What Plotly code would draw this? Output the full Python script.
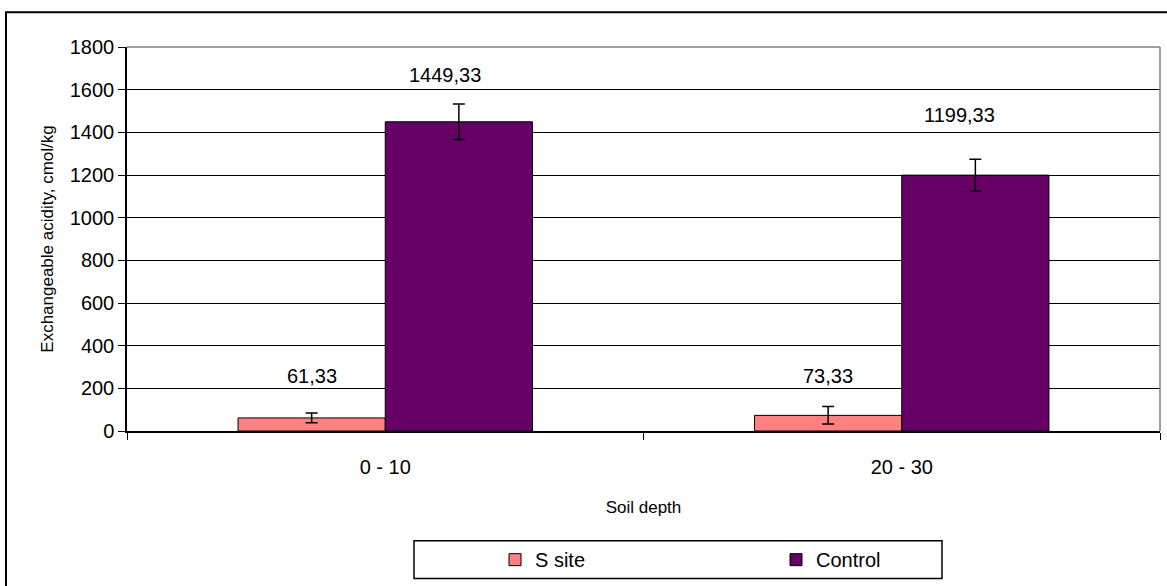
import plotly.graph_objects as go

# Exchangeable acidity by soil depth
depths = ["0 - 10", "20 - 30"]
s_site = [61.33, 73.33]
s_site_err = [23, 41]
control = [1449.33, 1199.33]
control_err = [83, 75]
y_ticks = [0, 200, 400, 600, 800, 1000, 1200, 1400, 1600, 1800]

# pixel offsets (up, sideways) of each value label relative to its bar top
s_site_lift = [42, 39]
control_lift = [47, 60]
s_site_side = [0, 0]
control_side = [-14, -16]

FONT = "Liberation Sans, Arial, sans-serif"
BAR_GAP = 0.43

W, H = 1167, 586
ML, MR, MT, MB = 127, 7, 47, 151
PW = W - ML - MR
PH = H - MT - MB


def px_x(px):
    return (px - ML) / PW


def px_y(py):
    return (H - MB - py) / PH


def fmt(v):
    return f"{v:.2f}".replace(".", ",")


fig = go.Figure()
fig.add_trace(go.Bar(
    name="S site", x=depths, y=s_site,
    marker=dict(color="#FF8080", line=dict(color="black", width=1)),
    error_y=dict(type="data", array=s_site_err, color="black", thickness=1.5, width=6),
))
fig.add_trace(go.Bar(
    name="Control", x=depths, y=control,
    marker=dict(color="#660066", line=dict(color="black", width=1)),
    error_y=dict(type="data", array=control_err, color="black", thickness=1.5, width=6),
))

# value labels above each bar
off = (1 - BAR_GAP) / 4
for i, d in enumerate(depths):
    for val, lift, side, dx in ((s_site[i], s_site_lift[i], s_site_side[i], -off),
                                (control[i], control_lift[i], control_side[i], off)):
        fig.add_annotation(x=i + dx, y=val, xref="x", yref="y", text=fmt(val),
                           showarrow=False, yshift=lift, xshift=side, yanchor="middle",
                           font=dict(family=FONT, size=20, color="black"))

shapes = [
    # outer chart frame
    dict(type="rect", xref="paper", yref="paper",
         x0=px_x(6), x1=px_x(W + 20), y0=px_y(H + 20), y1=px_y(12),
         line=dict(color="black", width=2), fillcolor="rgba(0,0,0,0)", layer="below"),
    # plot area top and right edges
    dict(type="line", xref="paper", yref="paper", x0=0, x1=1, y0=1, y1=1,
         line=dict(color="#808080", width=1.5)),
    dict(type="line", xref="paper", yref="paper", x0=1, x1=1, y0=0, y1=1,
         line=dict(color="#808080", width=1.5)),
    # legend frame
    dict(type="rect", xref="paper", yref="paper",
         x0=px_x(414), x1=px_x(942), y0=px_y(584), y1=px_y(546),
         line=dict(color="black", width=1.5), fillcolor="white"),
]

fig.update_layout(
    width=W, height=H,
    margin=dict(l=ML, r=MR, t=MT, b=MB),
    paper_bgcolor="white", plot_bgcolor="white",
    barmode="group", bargap=BAR_GAP, bargroupgap=0,
    font=dict(family=FONT, size=20, color="black"),
    shapes=shapes,
    showlegend=True,
    legend=dict(orientation="h", x=px_x(495), xanchor="left",
                y=px_y(565), yanchor="middle",
                entrywidth=236, entrywidthmode="pixels",
                bgcolor="rgba(0,0,0,0)", borderwidth=0,
                font=dict(family=FONT, size=20, color="black"),
                itemwidth=30, traceorder="normal"),
)

fig.update_xaxes(
    type="category", showline=True, linecolor="black", linewidth=1.5,
    ticks="outside", tickson="boundaries", ticklen=7, tickcolor="black",
    tickfont=dict(family=FONT, size=20), ticklabelstandoff=17,
    title=dict(text="Soil depth", font=dict(family=FONT, size=17), standoff=24),
    showgrid=False, zeroline=False,
)
fig.update_yaxes(
    range=[0, 1800], tickvals=y_ticks, showline=True, linecolor="black", linewidth=1.5,
    ticks="outside", ticklen=7, tickcolor="black",
    tickfont=dict(family=FONT, size=20),
    showgrid=True, gridcolor="black", gridwidth=1, zeroline=False,
    title=dict(text="Exchangeable acidity, cmol/kg", font=dict(family=FONT, size=17), standoff=12),
)

fig.write_html("out.html")
